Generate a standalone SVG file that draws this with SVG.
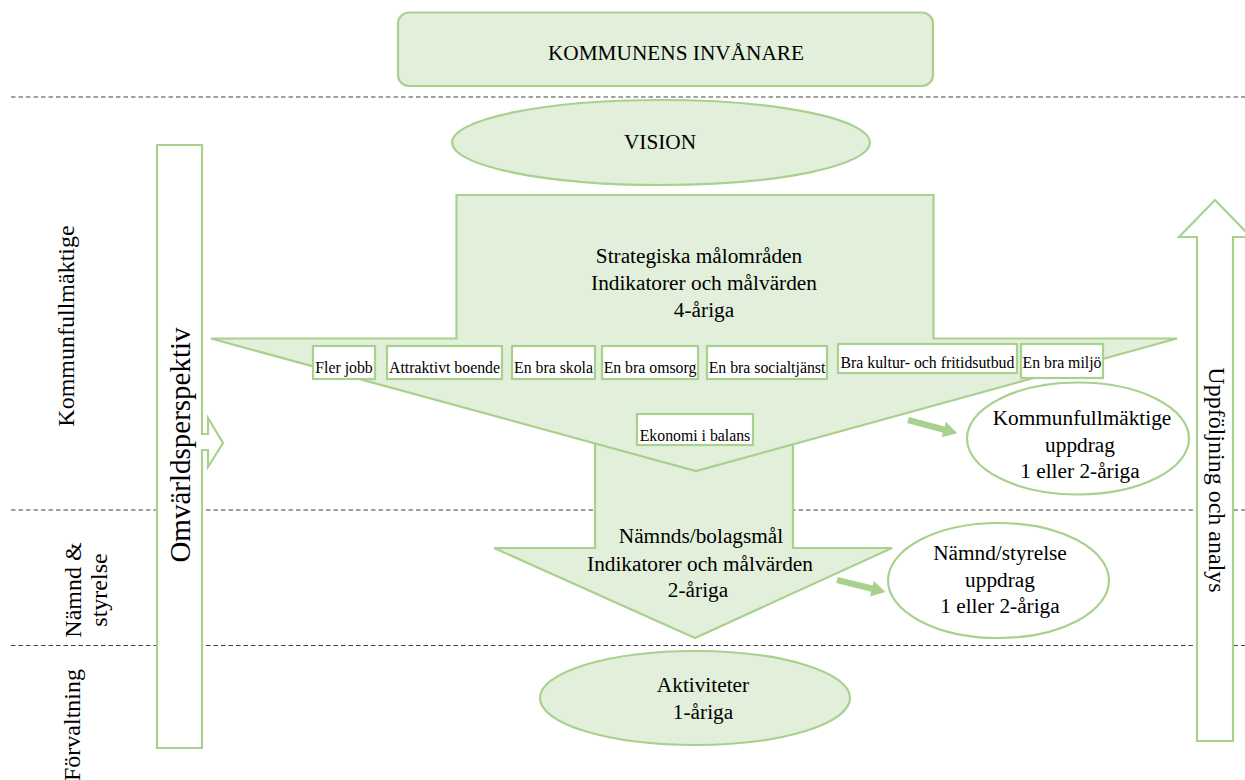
<svg xmlns="http://www.w3.org/2000/svg" width="1245" height="780" viewBox="0 0 1245 780">
<style>
.t{font-family:"Liberation Serif","Times New Roman",serif;fill:#000;text-anchor:middle}
.m{font-size:21.3px}
.s{font-size:15.8px}
.l{font-size:24px}
.g{fill:#e2efda;stroke:#a9d18e;stroke-width:2.2}
.w{fill:#fff;stroke:#a9d18e;stroke-width:2.2}
.d{stroke:#444;stroke-width:1.1;stroke-dasharray:4.5 3;fill:none}
.c{fill:#a9d18e;stroke:none}
</style>
<rect width="1245" height="780" fill="#fff"/>
<g id="dividers">
<line class="d" x1="11" y1="97" x2="1245" y2="97"/>
<line class="d" x1="11" y1="510" x2="1245" y2="510"/>
<line class="d" x1="11" y1="645.5" x2="1245" y2="645.5"/>
</g>
<g id="level-labels">
<text class="t l" transform="translate(67,326) rotate(-90)" y="7">Kommunfullmäktige</text>
<text class="t l" transform="translate(73,590) rotate(-90)" y="8">Nämnd &amp;</text>
<text class="t l" transform="translate(99,590) rotate(-90)" y="8">styrelse</text>
<text class="t l" transform="translate(73,725) rotate(-90)" y="7">Förvaltning</text>
</g>
<g id="omvarld">
<path class="w" d="M157,145 H202 V434 H208 V418 L223,443 L208,467 V450 H202 V748 H157 Z"/>
<text class="t" font-size="29px" transform="translate(180,445) rotate(-90)" y="10">Omvärldsperspektiv</text>
</g>
<g id="uppfoljning">
<path class="w" d="M1197,741 V237 H1179 L1215,200 L1251,237 H1233 V741 Z"/>
<text class="t l" transform="translate(1215,480) rotate(90)" y="6">Uppföljning och analys</text>
</g>
<g id="invanare">
<rect class="g" x="398" y="12.5" width="535" height="73.5" rx="11"/>
<text class="t m" x="676" y="60">KOMMUNENS INVÅNARE</text>
</g>
<g id="vision">
<ellipse class="g" cx="661" cy="142.5" rx="209" ry="42.5"/>
<text class="t m" x="660" y="149">VISION</text>
</g>
<g id="namnd-mal">
<path class="g" d="M595,430 H793 V548 H892 L695,638 L494,548 H595 Z"/>
<text class="t m" x="701" y="543">Nämnds/bolagsmål</text>
<text class="t m" x="700" y="571">Indikatorer och målvärden</text>
<text class="t m" x="698" y="597">2-åriga</text>
</g>
<g id="strategiska">
<path class="g" d="M456.5,195 H933.5 V338.5 H1177 L696,471 L211,338.5 H456.5 Z"/>
<text class="t m" x="699" y="263">Strategiska målområden</text>
<text class="t m" x="704" y="290">Indikatorer och målvärden</text>
<text class="t m" x="704" y="317">4-åriga</text>
</g>
<g id="malomraden">
<g id="fler-jobb"><rect class="w" x="313" y="346" width="62" height="33"/><text class="t s" x="344" y="373">Fler jobb</text></g>
<g id="attraktivt-boende"><rect class="w" x="387" y="346" width="115" height="33"/><text class="t s" x="444.5" y="373">Attraktivt boende</text></g>
<g id="skola"><rect class="w" x="512" y="346" width="83" height="33"/><text class="t s" x="553.5" y="373">En bra skola</text></g>
<g id="omsorg"><rect class="w" x="602" y="346" width="96" height="33"/><text class="t s" x="650" y="373">En bra omsorg</text></g>
<g id="socialtjanst"><rect class="w" x="707" y="346" width="120" height="33"/><text class="t s" x="767" y="373">En bra socialtjänst</text></g>
<g id="kultur"><rect class="w" x="838" y="344" width="179" height="29"/><text class="t s" x="927.5" y="368">Bra kultur- och fritidsutbud</text></g>
<g id="miljo"><rect class="w" x="1021" y="344" width="82" height="34"/><text class="t s" x="1062" y="368">En bra miljö</text></g>
<g id="ekonomi"><rect class="w" x="637" y="414" width="116" height="31"/><text class="t s" x="695" y="441">Ekonomi i balans</text></g>
</g>
<g id="kf-uppdrag">
<ellipse class="w" cx="1078" cy="438.5" rx="111" ry="56"/>
<text class="t m" x="1082" y="425">Kommunfullmäktige</text>
<text class="t m" x="1080" y="452">uppdrag</text>
<text class="t m" x="1080" y="478">1 eller 2-åriga</text>
</g>
<g id="namnd-uppdrag">
<ellipse class="w" cx="998.5" cy="580.5" rx="110.5" ry="57.5"/>
<text class="t m" x="1000" y="560">Nämnd/styrelse</text>
<text class="t m" x="1000" y="587">uppdrag</text>
<text class="t m" x="1000" y="613">1 eller 2-åriga</text>
</g>
<g id="aktiviteter">
<ellipse class="g" cx="695" cy="698" rx="155" ry="47"/>
<text class="t m" x="703" y="692">Aktiviteter</text>
<text class="t m" x="703" y="719">1-åriga</text>
</g>
<g id="connectors">
<polygon class="c" transform="translate(908,420) rotate(15)" points="0,-3.2 37,-3.2 37,-8 51,0 37,8 37,3.2 0,3.2"/>
<polygon class="c" transform="translate(837,580) rotate(14)" points="0,-3.2 36,-3.2 36,-8 50,0 36,8 36,3.2 0,3.2"/>
</g>
</svg>
